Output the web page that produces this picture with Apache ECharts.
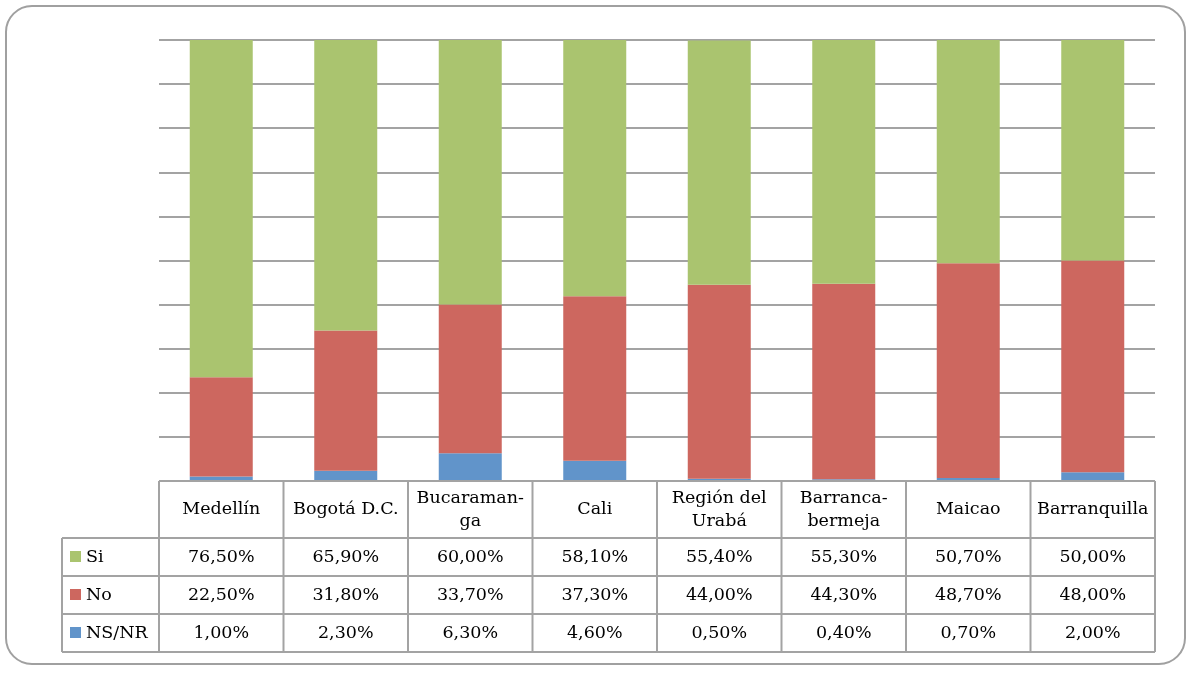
<!DOCTYPE html>
<html>
<head>
<meta charset="utf-8">
<script src="https://cdn.jsdelivr.net/npm/echarts@6/dist/echarts.min.js"></script>
<style>
  html, body { margin: 0; padding: 0; background: #fff; }
  #chart { width: 1192px; height: 697px; }
</style>
</head>
<body>
<div id="chart"></div>
<script>
// datos del grafico
var categories = ['Medellín', 'Bogotá D.C.', 'Bucaraman-\nga', 'Cali', 'Región del\nUrabá', 'Barranca-\nbermeja', 'Maicao', 'Barranquilla'];
var seriesNames = ['Si', 'No', 'NS/NR'];
var siValues = [76.5, 65.9, 60.0, 58.1, 55.4, 55.3, 50.7, 50.0];
var noValues = [22.5, 31.8, 33.7, 37.3, 44.0, 44.3, 48.7, 48.0];
var nsnrValues = [1.0, 2.3, 6.3, 4.6, 0.5, 0.4, 0.7, 2.0];

var colors = { 'Si': '#aac46f', 'No': '#cd675f', 'NS/NR': '#6194ca' };
var lineColor = '#a3a3a3';
var fontFam = 'DejaVu Serif';
var font = '17.5px "' + fontFam + '"';

var fmt = function (v) {
    return v.toFixed(2).replace('.', ',') + '%';
};

var chart = echarts.init(document.getElementById('chart'));

var option = {
    animation: false,
    grid: { left: 159, right: 37, top: 40, bottom: 216 },
    xAxis: {
        type: 'category',
        data: categories,
        axisLine: { show: false },
        axisTick: { show: false },
        axisLabel: { show: false }
    },
    yAxis: {
        type: 'value',
        min: 0,
        max: 100,
        interval: 10,
        axisLine: { show: false },
        axisTick: { show: false },
        axisLabel: { show: false },
        splitLine: { lineStyle: { color: lineColor, width: 2 } }
    },
    series: [
        { name: 'NS/NR', type: 'bar', stack: 'total', data: nsnrValues, barWidth: 63,
          itemStyle: { color: colors['NS/NR'] } },
        { name: 'No', type: 'bar', stack: 'total', data: noValues, barWidth: 63,
          itemStyle: { color: colors['No'] } },
        { name: 'Si', type: 'bar', stack: 'total', data: siValues, barWidth: 63,
          itemStyle: { color: colors['Si'] } }
    ]
};
chart.setOption(option);

// tabla de datos bajo el grafico
var buildTable = function () {
    var els = [];
    var n = categories.length;
    var x0 = chart.convertToPixel({ xAxisIndex: 0 }, 0);
    var x1 = chart.convertToPixel({ xAxisIndex: 0 }, 1);
    var band = x1 - x0;
    var left = x0 - band / 2;
    var right = left + band * n;
    var top = chart.convertToPixel({ yAxisIndex: 0 }, 0);
    var headerH = 57;
    var rowH = 38;
    var keyLeft = 62;
    var rows = [
        { name: 'Si', values: siValues },
        { name: 'No', values: noValues },
        { name: 'NS/NR', values: nsnrValues }
    ];
    var bottom = top + headerH + rowH * rows.length;
    var lineStyle = { stroke: lineColor, lineWidth: 2 };

    // marco exterior redondeado
    els.push({ type: 'rect', shape: { x: 6, y: 6, width: 1179, height: 658, r: 26 },
        style: { fill: 'none', stroke: '#a0a0a0', lineWidth: 2 }, z: 0 });

    // lineas horizontales
    els.push({ type: 'line', shape: { x1: left, y1: top, x2: right, y2: top }, style: lineStyle, z: 10 });
    for (var r = 0; r <= rows.length; r++) {
        var y = top + headerH + rowH * r;
        els.push({ type: 'line', shape: { x1: keyLeft, y1: y, x2: right, y2: y }, style: lineStyle, z: 10 });
    }
    // lineas verticales
    els.push({ type: 'line', shape: { x1: keyLeft, y1: top + headerH, x2: keyLeft, y2: bottom }, style: lineStyle, z: 10 });
    for (var i = 0; i <= n; i++) {
        var x = left + band * i;
        els.push({ type: 'line', shape: { x1: x, y1: top, x2: x, y2: bottom }, style: lineStyle, z: 10 });
    }
    // encabezados
    for (var c = 0; c < n; c++) {
        els.push({ type: 'text', x: left + band * (c + 0.5), y: top + headerH / 2,
            style: { text: categories[c], fill: '#000', font: font,
                align: 'center', verticalAlign: 'middle', lineHeight: 23 }, z: 11 });
    }
    // filas
    rows.forEach(function (row, ri) {
        var cy = top + headerH + rowH * (ri + 0.5);
        els.push({ type: 'rect', shape: { x: 70, y: cy - 6, width: 11, height: 11 },
            style: { fill: colors[row.name] }, z: 11 });
        els.push({ type: 'text', x: 86, y: cy,
            style: { text: row.name, fill: '#000', font: font,
                align: 'left', verticalAlign: 'middle' }, z: 11 });
        row.values.forEach(function (v, c) {
            els.push({ type: 'text', x: left + band * (c + 0.5), y: cy,
                style: { text: fmt(v), fill: '#000', font: font,
                    align: 'center', verticalAlign: 'middle' }, z: 11 });
        });
    });
    chart.setOption({ graphic: els });
};
buildTable();
</script>
</body>
</html>
